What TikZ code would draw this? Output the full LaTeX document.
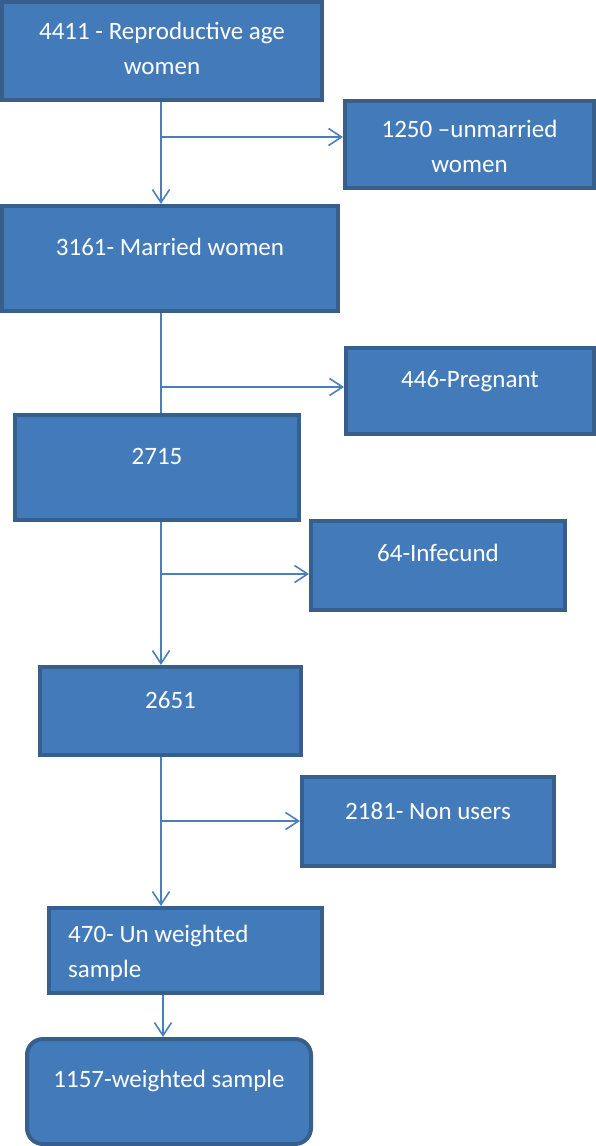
\documentclass[tikz,border=0pt]{standalone}
\usepackage{fontspec}
\setmainfont{Carlito}
\usetikzlibrary{arrows.meta}
\definecolor{boxfill}{RGB}{67,123,186}
\definecolor{boxline}{RGB}{56,94,140}
\definecolor{connc}{RGB}{74,126,188}
\begin{document}
\begin{tikzpicture}[x=1pt,y=-1pt,
  flowbox/.style={draw=boxline,fill=boxfill,line width=4pt,rectangle,inner sep=0pt},
  lbl/.style={text=white,font=\fontsize{25}{35}\selectfont,inner sep=0pt,anchor=base,align=center},
  conn/.style={draw=connc,line width=1.6pt},
  arr/.style={conn,-{Straight Barb[length=13pt,width=17pt,line width=1.6pt]}}]
\useasboundingbox (0,0) rectangle (596,1146);
% boxes
\node[flowbox,minimum width=320pt,minimum height=98pt] (b1) at (162,51) {};
\node[flowbox,minimum width=249pt,minimum height=87pt] (b1250) at (469.5,144.5) {};
\node[flowbox,minimum width=336pt,minimum height=105pt] (b2) at (170,258.5) {};
\node[flowbox,minimum width=248pt,minimum height=86pt] (b446) at (470,391) {};
\node[flowbox,minimum width=284pt,minimum height=105pt] (b2715) at (157,467.5) {};
\node[flowbox,minimum width=254pt,minimum height=89pt] (b64) at (438,565.5) {};
\node[flowbox,minimum width=261pt,minimum height=88pt] (b2651) at (170.5,711) {};
\node[flowbox,minimum width=252pt,minimum height=89pt] (b2181) at (428,821.5) {};
\node[flowbox,minimum width=273pt,minimum height=85pt] (b470) at (185.5,950.5) {};
\node[flowbox,rounded corners=16pt,minimum width=284pt,minimum height=105pt] (b1157) at (169,1091.5) {};
% texts (base anchor = baseline of the last line)
\node[lbl] (t1) at (162,74) {4411 - Reproductive age\\women};
\node[lbl] (t1250) at (469.5,172) {1250 –unmarried\\women};
\node[lbl] (t2) at (170,255) {3161- Married women};
\node[lbl] (t446) at (470,387) {446-Pregnant};
\node[lbl] (t2715) at (157,464) {2715};
\node[lbl] (t64) at (438,561) {64-Infecund};
\node[lbl] (t2651) at (170.5,708) {2651};
\node[lbl] (t2181) at (428,819) {2181- Non users};
\node[lbl,anchor=base west,align=left] (t470) at (68,977) {470- Un weighted\\sample};
\node[lbl] (t1157) at (169,1087) {1157-weighted sample};
% branch points
\coordinate (br1) at (161,137);
\coordinate (br2) at (161,387);
\coordinate (br3) at (161,574);
\coordinate (br4) at (161,821);
\coordinate (br5) at (163,1000);
% connectors
\draw[arr] (b1.south -| br1) -- (b2.north -| br1);
\draw[arr] (br1) -- (br1 -| b1250.west);
\draw[conn] (b2.south -| br2) -- (b2715.north -| br2);
\draw[arr] (br2) -- (br2 -| b446.west);
\draw[arr] (b2715.south -| br3) -- (b2651.north -| br3);
\draw[arr] (br3) -- (br3 -| b64.west);
\draw[arr] (b2651.south -| br4) -- (b470.north -| br4);
\draw[arr] (br4) -- (br4 -| b2181.west);
\draw[arr] (b470.south -| br5) -- (b1157.north -| br5);
\end{tikzpicture}
\end{document}
